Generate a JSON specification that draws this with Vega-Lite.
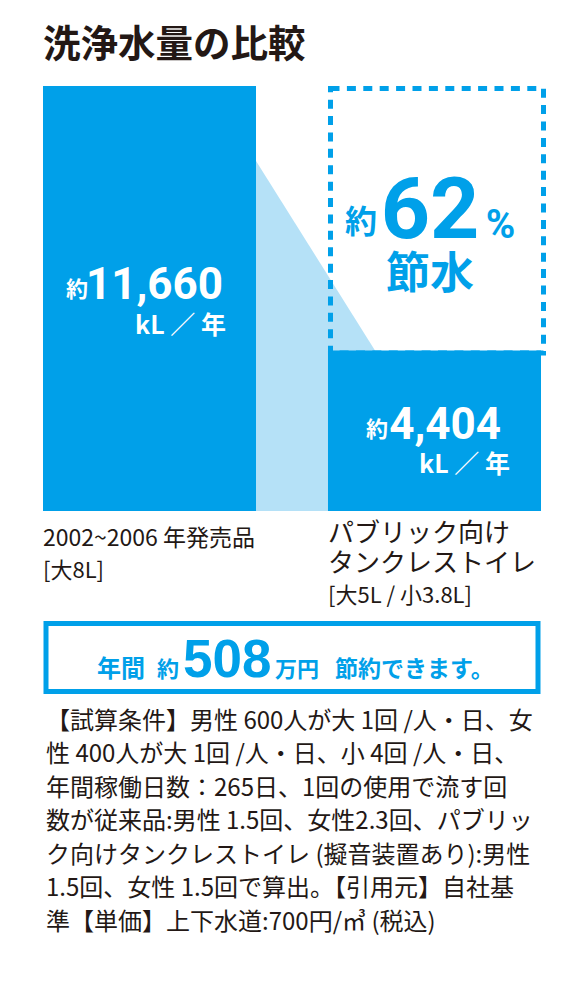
{
  "$schema": "https://vega.github.io/schema/vega-lite/v6.json",
  "background": "white",
  "padding": {"left": 42, "top": 26, "right": 0, "bottom": 0},
  "spacing": 112.5,
  "bounds": "flush",
  "center": true,
  "datasets": {
    "bars": [
      {"cat": "従来品", "kL": 11660, "name": "2002~2006 年発売品", "spec": "[大8L]"},
      {"cat": "パブリック向けタンクレストイレ", "kL": 4404, "before": 11660, "saving": 62, "name": ["パブリック向け", "タンクレストイレ"], "spec": "[大5L / 小3.8L]"}
    ],
    "connector": [
      {"edge": "従来品の右端", "kL": 11660},
      {"edge": "タンクレストイレの左端", "kL": 4404}
    ],
    "yen": [
      {"saving_man_yen": 508}
    ]
  },
  "vconcat": [
    {
      "width": 498,
      "height": 425,
      "title": {"text": "洗浄水量の比較", "anchor": "start", "fontSize": 37.5, "font": "Noto Sans CJK JP", "fontWeight": "bold", "color": "#231815", "offset": 22},
      "encoding": {
        "y": {"field": "kL", "type": "quantitative", "axis": null, "scale": {"domain": [0, 11660], "nice": false}}
      },
      "resolve": {"scale": {"x": "independent"}},
      "layer": [
        {
          "data": {"name": "connector"},
          "mark": {"type": "area", "color": "#b5e1f7"},
          "encoding": {
            "x": {"field": "edge", "type": "nominal", "sort": null, "axis": null,
                  "scale": {"type": "point", "domain": ["従来品の右端", "タンクレストイレの左端"], "padding": 2.9583}}
          }
        },
        {
          "data": {"name": "bars"},
          "encoding": {
            "x": {"field": "cat", "type": "nominal", "sort": null, "axis": null,
                  "scale": {"type": "band", "domain": ["従来品", "パブリック向けタンクレストイレ"], "paddingInner": 0.2526, "paddingOuter": 0}}
          },
          "layer": [
            {
              "transform": [{"filter": "datum.before != null"}],
              "mark": {"type": "rect", "fill": "transparent", "stroke": "#00a0e9", "strokeWidth": 5, "strokeDash": [9, 7.4], "xOffset": 2.5, "x2Offset": -2.5, "yOffset": 2.5, "y2Offset": 2.5},
              "encoding": {
                "y": {"field": "before", "type": "quantitative", "axis": null},
                "y2": {"field": "kL"}
              }
            },
            {
              "mark": {"type": "bar", "color": "#00a0e9"}
            },
            {
              "transform": [{"filter": {"field": "cat", "equal": "従来品"}}],
              "layer": [
                {
                  "mark": {"type": "text", "text": "約", "font": "Noto Sans CJK JP", "fontWeight": "bold", "fontSize": 22, "color": "white", "align": "right", "baseline": "alphabetic", "dx": -168, "dy": 211},
                  "encoding": {"x": {"field": "cat", "type": "nominal", "bandPosition": 1, "axis": null}}
                },
                {
                  "mark": {"type": "text", "font": "Roboto", "fontWeight": "bold", "fontSize": 44, "color": "white", "align": "right", "baseline": "alphabetic", "dx": -33, "dy": 213},
                  "encoding": {
                    "x": {"field": "cat", "type": "nominal", "bandPosition": 1, "axis": null},
                    "text": {"field": "kL", "type": "quantitative", "format": ","}
                  }
                },
                {
                  "mark": {"type": "text", "text": "kL ／ 年", "font": "Noto Sans CJK JP", "fontWeight": "bold", "fontSize": 25, "color": "white", "align": "right", "baseline": "alphabetic", "dx": -30, "dy": 248},
                  "encoding": {"x": {"field": "cat", "type": "nominal", "bandPosition": 1, "axis": null}}
                },
                {
                  "mark": {"type": "text", "font": "Noto Sans CJK JP", "fontSize": 23, "color": "#231815", "align": "left", "baseline": "alphabetic", "dy": 35},
                  "encoding": {
                    "x": {"field": "cat", "type": "nominal", "bandPosition": 0, "axis": null},
                    "y": {"datum": 0, "type": "quantitative", "axis": null},
                    "text": {"field": "name", "type": "nominal"}
                  }
                },
                {
                  "mark": {"type": "text", "font": "Noto Sans CJK JP", "fontSize": 22, "color": "#231815", "align": "left", "baseline": "alphabetic", "dy": 67},
                  "encoding": {
                    "x": {"field": "cat", "type": "nominal", "bandPosition": 0, "axis": null},
                    "y": {"datum": 0, "type": "quantitative", "axis": null},
                    "text": {"field": "spec", "type": "nominal"}
                  }
                }
              ]
            },
            {
              "transform": [{"filter": "datum.before != null"}],
              "layer": [
                {
                  "mark": {"type": "text", "text": "約", "font": "Noto Sans CJK JP", "fontWeight": "bold", "fontSize": 32, "color": "#00a0e9", "align": "center", "baseline": "alphabetic", "dx": -73.5, "dy": 147},
                  "encoding": {"y": {"field": "before", "type": "quantitative", "axis": null}}
                },
                {
                  "mark": {"type": "text", "font": "Roboto", "fontWeight": "bold", "fontSize": 86, "color": "#00a0e9", "align": "center", "baseline": "alphabetic", "dx": -4.5, "dy": 152},
                  "encoding": {
                    "y": {"field": "before", "type": "quantitative", "axis": null},
                    "text": {"field": "saving", "type": "quantitative"}
                  }
                },
                {
                  "mark": {"type": "text", "text": "%", "font": "Roboto", "fontWeight": "bold", "fontSize": 40, "color": "#00a0e9", "align": "center", "baseline": "alphabetic", "dx": 66, "dy": 152},
                  "encoding": {"y": {"field": "before", "type": "quantitative", "axis": null}}
                },
                {
                  "mark": {"type": "text", "text": "節水", "font": "Noto Sans CJK JP", "fontWeight": "bold", "fontSize": 44, "color": "#00a0e9", "align": "center", "baseline": "alphabetic", "dx": -4.5, "dy": 203},
                  "encoding": {"y": {"field": "before", "type": "quantitative", "axis": null}}
                },
                {
                  "mark": {"type": "text", "text": "約", "font": "Noto Sans CJK JP", "fontWeight": "bold", "fontSize": 22, "color": "white", "align": "right", "baseline": "alphabetic", "dx": -153, "dy": 87},
                  "encoding": {"x": {"field": "cat", "type": "nominal", "bandPosition": 1, "axis": null}}
                },
                {
                  "mark": {"type": "text", "font": "Roboto", "fontWeight": "bold", "fontSize": 44, "color": "white", "align": "right", "baseline": "alphabetic", "dx": -40, "dy": 88.5},
                  "encoding": {
                    "x": {"field": "cat", "type": "nominal", "bandPosition": 1, "axis": null},
                    "text": {"field": "kL", "type": "quantitative", "format": ","}
                  }
                },
                {
                  "mark": {"type": "text", "text": "kL ／ 年", "font": "Noto Sans CJK JP", "fontWeight": "bold", "fontSize": 25, "color": "white", "align": "right", "baseline": "alphabetic", "dx": -31, "dy": 122.5},
                  "encoding": {"x": {"field": "cat", "type": "nominal", "bandPosition": 1, "axis": null}}
                },
                {
                  "mark": {"type": "text", "font": "Noto Sans CJK JP", "fontSize": 26, "lineHeight": 30, "color": "#231815", "align": "left", "baseline": "alphabetic", "dy": 31},
                  "encoding": {
                    "x": {"field": "cat", "type": "nominal", "bandPosition": 0, "axis": null},
                    "y": {"datum": 0, "type": "quantitative", "axis": null},
                    "text": {"field": "name", "type": "nominal"}
                  }
                },
                {
                  "mark": {"type": "text", "font": "Noto Sans CJK JP", "fontSize": 22, "color": "#231815", "align": "left", "baseline": "alphabetic", "dy": 92},
                  "encoding": {
                    "x": {"field": "cat", "type": "nominal", "bandPosition": 0, "axis": null},
                    "y": {"datum": 0, "type": "quantitative", "axis": null},
                    "text": {"field": "spec", "type": "nominal"}
                  }
                }
              ]
            }
          ]
        }
      ]
    },
    {
      "width": 492,
      "height": 68,
      "view": {"stroke": "#00a0e9", "strokeWidth": 5},
      "title": {
        "text": [
          "【試算条件】男性 600人が大 1回 /人・日、女",
          "性 400人が大 1回 /人・日、小 4回 /人・日、",
          "年間稼働日数：265日、1回の使用で流す回",
          "数が従来品:男性 1.5回、女性2.3回、パブリッ",
          "ク向けタンクレストイレ (擬音装置あり):男性",
          "1.5回、女性 1.5回で算出。【引用元】自社基",
          "準【単価】上下水道:700円/㎥ (税込)"
        ],
        "orient": "bottom", "anchor": "start", "baseline": "top",
        "font": "Noto Sans CJK JP", "fontSize": 24, "fontWeight": "normal", "color": "#231815",
        "lineHeight": 33.5, "offset": 18
      },
      "data": {"name": "yen"},
      "layer": [
        {
          "mark": {"type": "text", "text": "年間", "font": "Noto Sans CJK JP", "fontWeight": "bold", "fontSize": 24, "color": "#00a0e9", "align": "left", "baseline": "alphabetic", "dx": -195, "dy": 19},
          "encoding": {}
        },
        {
          "mark": {"type": "text", "text": "約", "font": "Noto Sans CJK JP", "fontWeight": "bold", "fontSize": 22, "color": "#00a0e9", "align": "left", "baseline": "alphabetic", "dx": -135, "dy": 19},
          "encoding": {}
        },
        {
          "mark": {"type": "text", "font": "Liberation Sans, Roboto", "fontWeight": "bold", "fontSize": 53, "color": "#00a0e9", "align": "left", "baseline": "alphabetic", "dx": -109, "dy": 19.5},
          "encoding": {"text": {"field": "saving_man_yen", "type": "quantitative"}}
        },
        {
          "mark": {"type": "text", "text": "万円", "font": "Noto Sans CJK JP", "fontWeight": "bold", "fontSize": 22, "color": "#00a0e9", "align": "left", "baseline": "alphabetic", "dx": -17, "dy": 19},
          "encoding": {}
        },
        {
          "mark": {"type": "text", "text": "節約できます。", "font": "Noto Sans CJK JP", "fontWeight": "bold", "fontSize": 23, "color": "#00a0e9", "align": "left", "baseline": "alphabetic", "dx": 43, "dy": 19},
          "encoding": {}
        }
      ]
    }
  ],
  "config": {
    "view": {"stroke": null},
    "axis": {"disable": true}
  }
}
